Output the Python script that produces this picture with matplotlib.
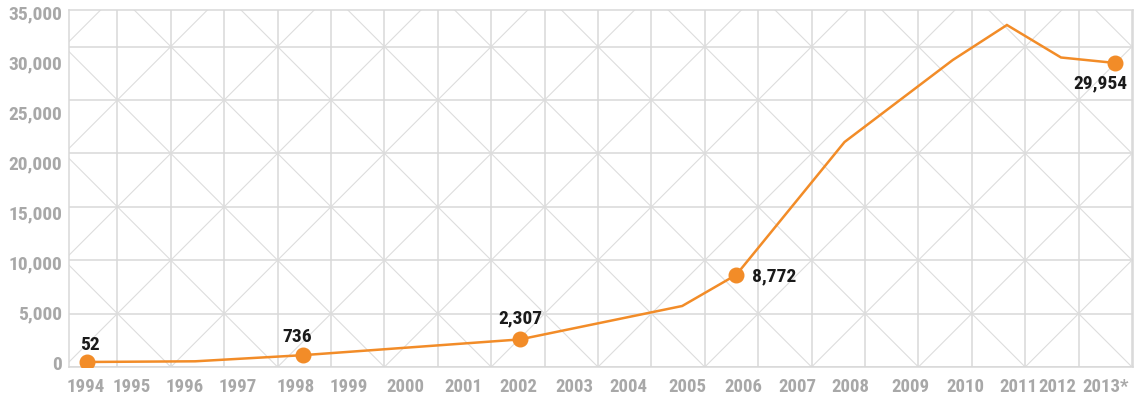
import numpy as np
import matplotlib
matplotlib.use('Agg')
import matplotlib.pyplot as plt
from matplotlib import font_manager as fm

# ── Datos ─────────────────────────────────────────────────────────────────────
years = [1994, 1996, 1998, 2002, 2005, 2006, 2008, 2010, 2011, 2012, 2013]
values = [52, 120, 736, 2307, 5650, 8772, 22050, 30250, 33750, 30500, 29954]

# puntos destacados con etiqueta
marked_years = [1994, 1998, 2002, 2006, 2013]
marked_values = [52, 736, 2307, 8772, 29954]
marked_labels = ['52', '736', '2,307', '8,772', '29,954']

tick_labels = [str(y) for y in range(1994, 2013)] + ['2013*']
y_ticks = [0, 5000, 10000, 15000, 20000, 25000, 30000, 35000]
y_tick_labels = ['0', '5,000', '10,000', '15,000', '20,000', '25,000',
                 '30,000', '35,000']

# posición de las etiquetas del eje x (no están espaciadas de forma regular)
TICK_POS = [1993.97, 1994.82, 1995.81, 1996.79, 1997.85, 1998.83, 1999.88,
            2000.95, 2001.97, 2003.0, 2004.0, 2005.1, 2006.13, 2007.12,
            2008.1, 2009.21, 2010.24, 2011.22, 2011.94, 2012.83]


# ── Fuente: buscar una variante condensada en negrita si existe ──────────────
def find_condensed_bold():
    prefer = ['Roboto', 'Noto Sans', 'Open Sans', 'DejaVu Sans', 'Liberation Sans']
    found = []
    for f in fm.fontManager.ttflist:
        name = f.name
        cond = (str(f.stretch) in ('condensed', 'semi-condensed', 'extra-condensed')
                or 'Condensed' in name or 'Narrow' in name)
        try:
            w = int(f.weight)
        except (TypeError, ValueError):
            w = 700 if 'bold' in str(f.weight) else 400
        if cond and 600 <= w <= 750 and f.style == 'normal':
            rank = next((i for i, p in enumerate(prefer) if name.startswith(p)), 99)
            found.append((rank, f.fname))
    found.sort()
    return found[0][1] if found else None


COND = find_condensed_bold()


def fprops(size):
    if COND:
        return fm.FontProperties(fname=COND, size=size)
    return fm.FontProperties(family=['Roboto', 'DejaVu Sans'],
                             weight='bold', size=size * 0.93)


# ── Estilo ────────────────────────────────────────────────────────────────────
ORANGE = '#F28C28'
GRID = '#D8D8D8'
DIAG = '#DDDDDD'
TICK = '#A8A8A8'

W, H = 1137, 395
fig = plt.figure(figsize=(W / 100, H / 100), dpi=100)
fig.patch.set_facecolor('white')

# área del gráfico en píxeles
left, right, top, bottom = 69, 1133, 10, 367
pos = [left / W, (H - bottom) / H, (right - left) / W, (bottom - top) / H]

# ── Fondo decorativo: retícula con diagonales ────────────────────────────────
cell = 53.4
bg = fig.add_axes(pos, zorder=0)
u0 = -(1132 - left) / cell
u1 = (right - 1132) / cell
v1 = (bottom - top) / cell
bg.set_xlim(u0, u1)
bg.set_ylim(0, v1)
for u in range(int(np.floor(u0)), 1):
    bg.axvline(u, color=GRID, lw=1.1)
for v in range(0, int(np.ceil(v1)) + 1):
    bg.axhline(v, color=GRID, lw=1.1)
uu = np.array([u0 - 10, u1 + 10])
for k in range(-20, 20):
    bg.plot(uu, uu + 2 * k, color=DIAG, lw=0.8)
    bg.plot(uu, -uu + 2 * k, color=DIAG, lw=0.8)
bg.set_xticks([])
bg.set_yticks([])
for s in bg.spines.values():
    s.set_color(GRID)
    s.set_linewidth(1.1)

# ── Serie ────────────────────────────────────────────────────────────────────
ax = fig.add_axes(pos, zorder=1)
ax.patch.set_alpha(0)
ax.set_xlim(1993.67, 2013.33)
ax.set_ylim(-450, 35250)

ax.plot(years, values, color=ORANGE, lw=1.8, solid_joinstyle='miter', zorder=3)
ax.plot(marked_years, marked_values, 'o', color=ORANGE, ms=10.5, zorder=4)

offsets = [(3, 17, 'center'), (-6, 18, 'center'), (1, 21, 'center'),
           (16, -2, 'left'), (-15, -20, 'center')]
for x, y, lab, (dx, dy, ha) in zip(marked_years, marked_values,
                                    marked_labels, offsets):
    ax.annotate(lab, (x, y), xytext=(dx, dy), textcoords='offset pixels',
                ha=ha, va='center', color='#1A1A1A', zorder=5,
                fontproperties=fprops(14))

ax.set_xticks(TICK_POS)
ax.set_xticklabels(tick_labels)
ax.set_yticks(y_ticks)
ax.set_yticklabels(y_tick_labels)
ax.tick_params(length=0, colors=TICK)
ax.tick_params(axis='x', pad=8)
ax.tick_params(axis='y', pad=5)
for lab in ax.get_xticklabels():
    lab.set_fontproperties(fprops(13.5 if COND else 13))
for lab in ax.get_yticklabels():
    lab.set_fontproperties(fprops(14))
for s in ax.spines.values():
    s.set_visible(False)

fig.savefig('out.png', dpi=100, facecolor='white')
